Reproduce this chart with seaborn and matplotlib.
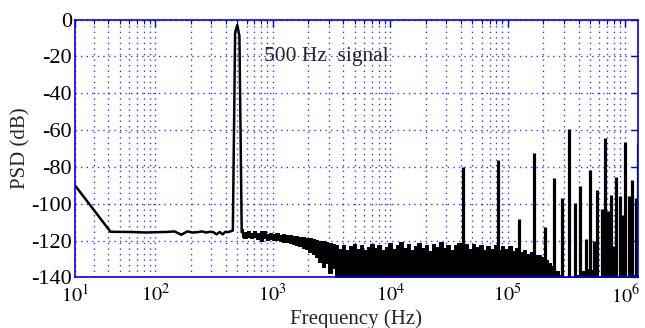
import numpy as np
import pandas as pd
import matplotlib
matplotlib.use('Agg')
import matplotlib.pyplot as plt
import seaborn as sns
from matplotlib.ticker import FixedLocator, LogLocator, NullFormatter

# low-frequency trace incl. the 500 Hz tone (Hz, dB)
trace_freq = [20.8, 41.7, 62.5, 83.3, 104, 125, 146, 167, 187.5, 208, 229, 250, 271,
              292, 312.5, 333, 354, 375, 396, 417, 437.5, 458, 479, 500, 521, 545]
trace_db = [-90, -115.2, -115.3, -115.6, -115.4, -115.3, -115.0, -116.8, -115.0, -115.6,
            -115.4, -115.0, -115.6, -115.2, -115.4, -116.6, -115.3, -116.6, -115.2, -115.4,
            -115.0, -114.5, -7, -3, -9, -115.5]

# noise just after the tone, drawn as a thick ragged band (top / bottom)
band_freq = [545, 580, 620, 660, 700, 750, 800, 850, 900, 960, 1020, 1090, 1160, 1240,
             1320, 1410, 1500, 1600, 1700, 1820, 1950, 2080, 2220, 2370, 2530, 2700,
             2880, 3070, 3280, 3500]
band_top = [-113.5, -115.5, -114.5, -115.8, -114.8, -116.0, -115.0, -114.5, -116.2, -115.6,
            -116.4, -116.0, -116.8, -116.4, -117.2, -116.8, -117.6, -117.4, -118.0, -118.2,
            -118.6, -118.4, -119.2, -119.4, -120.2, -120.0, -121.0, -121.4, -122.0, -122.6]
band_low = [-118.0, -118.5, -117.8, -118.8, -118.2, -119.0, -120.0, -118.6, -119.6, -119.0,
            -119.8, -119.6, -120.4, -120.8, -121.0, -121.4, -122.0, -122.2, -123.0, -123.8,
            -124.6, -126.0, -127.5, -129.0, -131.5, -134.5, -132.0, -137.5, -135.0, -140.0]

# dense noise floor, filled down to the bottom of the axis
floor_freq = [3500, 3750, 4000, 4300, 4600, 4950, 5300, 5700, 6100, 6550, 7000, 7500, 8050,
              8650, 9300, 10000, 10700, 11500, 12400, 13300, 14300, 15300, 16400, 17600,
              18900, 20300, 21800, 23400, 25100, 27000, 29000, 31100, 33400, 35900, 38500,
              41300, 44400, 47700, 51200, 55000, 59000, 63400, 68000, 73000, 78400, 84200,
              90400, 97100, 104000, 112000, 120000, 129000, 138000, 148000, 159000, 171000,
              183000, 197000, 211000, 227000, 243000, 261000, 280000, 300000, 320000,
              380000, 400000, 430000, 470000, 510000, 550000, 585000, 620000, 680000,
              740000, 800000, 880000, 960000, 1050000, 1150000, 1280000]
floor_top = [-122.6, -124.5, -122.5, -125.0, -123.0, -121.8, -124.6, -122.4, -125.2, -123.4,
             -121.6, -124.0, -122.2, -125.0, -123.2, -121.4, -124.4, -122.6, -120.8, -123.8,
             -122.0, -125.0, -122.8, -121.2, -124.2, -122.4, -125.4, -121.8, -123.6, -121.0,
             -124.0, -122.2, -125.2, -122.6, -121.4, -124.2, -122.0, -124.8, -121.8, -123.6,
             -122.4, -125.0, -122.8, -124.6, -122.2, -125.2, -123.0, -124.4, -122.8, -125.6,
             -124.0, -126.2, -125.0, -127.0, -126.4, -128.0, -127.6, -129.0, -130.6, -132.0,
             -134.0, -136.4, -138.6, -140.0, -140.0, -140.0, -138.5, -136.5, -135.6, -136.0,
             -137.5, -140.0, -139.0, -138.0, -139.0, -138.5, -139.2, -138.2, -139.0, -138.4,
             -139.0]

# harmonic / switching spikes
spike_freq = [41200, 83000, 125000, 166000, 208000, 248000, 292000, 329000, 372000, 413000,
              462000, 499000, 543000, 576000, 628000, 666000, 706000, 753000, 794000, 836000,
              893000, 947000, 997000, 1070000, 1150000, 1240000, 1275000]
spike_db = [-80.3, -76.5, -108, -72.5, -112.6, -86.2, -97, -59.3, -99.6, -90.6, -119, -81.9,
            -120, -92.7, -103, -64.5, -104, -95, -123, -85.5, -96, -106, -66.7, -96, -87,
            -97, -67]

x_tick_pos = [20.8, 1e2, 1e3, 1e4, 1e5, 1e6]
x_tick_lab = ['$10^1$', '$10^2$', '$10^3$', '$10^4$', '$10^5$', '$10^6$']
y_ticks = [-140, -120, -100, -80, -60, -40, -20, 0]

sns.set_style('white')
plt.rcParams['font.family'] = ['Liberation Serif', 'DejaVu Serif']
plt.rcParams['mathtext.fontset'] = 'stix'
plt.rcParams['axes.unicode_minus'] = False

blue = '#0000ff'
dots = (0, (1, 3))

fig, ax = plt.subplots(figsize=(6.45, 3.28), dpi=100)
fig.subplots_adjust(left=0.1163, right=0.989, top=0.9405, bottom=0.154)

ax.fill_between(floor_freq, -140, floor_top, step='mid', color='black', linewidth=0.7)
ax.fill_between(band_freq, band_low, band_top, step='mid', color='black', linewidth=0.7)
ax.vlines(spike_freq, -140, spike_db, color='black', linewidth=2.3)

trace = pd.DataFrame({'f': trace_freq, 'psd': trace_db})
sns.lineplot(data=trace, x='f', y='psd', color='black', linewidth=1.8,
             sort=False, estimator=None, ax=ax)

ax.set_xscale('log')
ax.set_xlim(20.8, 1.28e6)
ax.set_ylim(-140, 0)
ax.xaxis.set_major_locator(FixedLocator(x_tick_pos))
ax.set_xticklabels(x_tick_lab)
ax.xaxis.set_minor_locator(LogLocator(base=10, subs=np.arange(2, 10)))
ax.xaxis.set_minor_formatter(NullFormatter())
ax.set_yticks(y_ticks)
ax.set_yticklabels([str(v) for v in y_ticks])

ax.grid(which='major', color=blue, linestyle=dots, linewidth=1.0, alpha=0.8)
ax.grid(which='minor', axis='x', color=blue, linestyle=dots, linewidth=1.0, alpha=0.8)

ax.tick_params(which='both', direction='in', top=True, right=True, color=blue,
               labelcolor='black')
ax.tick_params(axis='x', labelsize=14.5, pad=5)
ax.tick_params(axis='y', labelsize=16, pad=2)
ax.tick_params(which='major', length=5, width=1)
ax.tick_params(which='minor', length=3, width=0.8)
for s in ax.spines.values():
    s.set_color(blue)
    s.set_linewidth(1.2)

ax.set_xlabel('Frequency (Hz)', fontsize=15, labelpad=1)
ax.set_ylabel('PSD (dB)', fontsize=15, labelpad=1)
ax.text(850, -20, '500 Hz  signal', fontsize=15.5, va='center', ha='left')

fig.savefig('out.png', dpi=100)
